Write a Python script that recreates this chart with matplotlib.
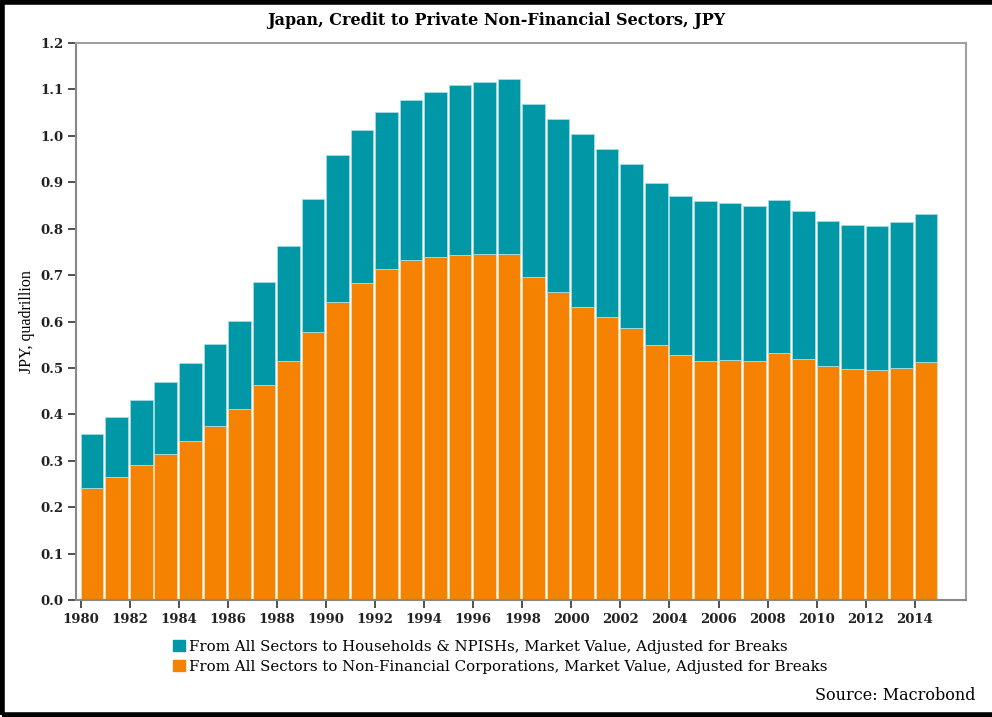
import matplotlib.pyplot as plt
import numpy as np
from matplotlib.patches import Rectangle, Patch

years = np.arange(1980, 2015)
corporations = [0.242, 0.266, 0.291, 0.315, 0.343, 0.375, 0.411, 0.464, 0.515, 0.578,
                0.643, 0.684, 0.714, 0.732, 0.740, 0.744, 0.745, 0.745, 0.696, 0.663,
                0.631, 0.609, 0.587, 0.550, 0.528, 0.515, 0.517, 0.515, 0.533, 0.519,
                0.504, 0.497, 0.495, 0.499, 0.512]
households = [0.116, 0.128, 0.140, 0.155, 0.167, 0.177, 0.190, 0.221, 0.247, 0.285,
              0.315, 0.329, 0.337, 0.346, 0.355, 0.365, 0.372, 0.377, 0.373, 0.374,
              0.373, 0.363, 0.353, 0.348, 0.342, 0.344, 0.339, 0.335, 0.328, 0.320,
              0.313, 0.312, 0.311, 0.316, 0.320]
labels = ['From All Sectors to Households & NPISHs, Market Value, Adjusted for Breaks',
          'From All Sectors to Non-Financial Corporations, Market Value, Adjusted for Breaks']
teal = '#0097a7'
orange = '#f58200'

fig = plt.figure(figsize=(9.92, 7.17), dpi=100)
ax = fig.add_axes([0.0766, 0.163, 0.8974, 0.777])

ax.bar(years, corporations, width=0.92, align='edge', color=orange,
       edgecolor='#fbd9b0', linewidth=0.6)
ax.bar(years, households, width=0.92, align='edge', bottom=corporations, color=teal,
       edgecolor='#a6dde3', linewidth=0.6)

ax.set_xlim(1979.8, 2016.1)
ax.set_ylim(0, 1.2)
ax.set_xticks(np.arange(1980, 2015, 2))
ax.set_yticks(np.arange(0, 1.21, 0.1))
ax.set_yticklabels([f'{v:.1f}' for v in np.arange(0, 1.21, 0.1)])
for lab in ax.get_xticklabels() + ax.get_yticklabels():
    lab.set_fontfamily('DejaVu Serif')
    lab.set_fontweight('bold')
    lab.set_fontsize(9.5)
    lab.set_color('#222222')
ax.tick_params(direction='out', length=6, width=1.2, color='#333333', pad=3)
for s in ax.spines.values():
    s.set_color('#a0a0a0')
    s.set_linewidth(1.5)
ax.spines['left'].set_color('#888888')
ax.spines['bottom'].set_color('#888888')

ax.set_ylabel('JPY, quadrillion', family='Liberation Serif', fontsize=11.5, labelpad=4)

fig.text(0.5, 0.971, 'Japan, Credit to Private Non-Financial Sectors, JPY',
         ha='center', va='center', family='DejaVu Serif', fontweight='bold', fontsize=11.5)

handles = [Patch(color=teal), Patch(color=orange)]
fig.legend(handles, labels, loc='upper left', bbox_to_anchor=(0.174, 0.108),
           frameon=False, prop={'family': 'DejaVu Serif', 'size': 10.8},
           handlelength=0.8, handleheight=0.8, handletextpad=0.3,
           labelspacing=0.4, borderaxespad=0, borderpad=0)

fig.text(0.983, 0.03, 'Source: Macrobond', ha='right', va='center',
         family='DejaVu Serif', fontsize=11.5)

fig.patches.append(Rectangle((0.002, 0.003), 1.05, 0.994, transform=fig.transFigure,
                             fill=False, edgecolor='black', linewidth=4))

fig.savefig('out.png', dpi=100)
